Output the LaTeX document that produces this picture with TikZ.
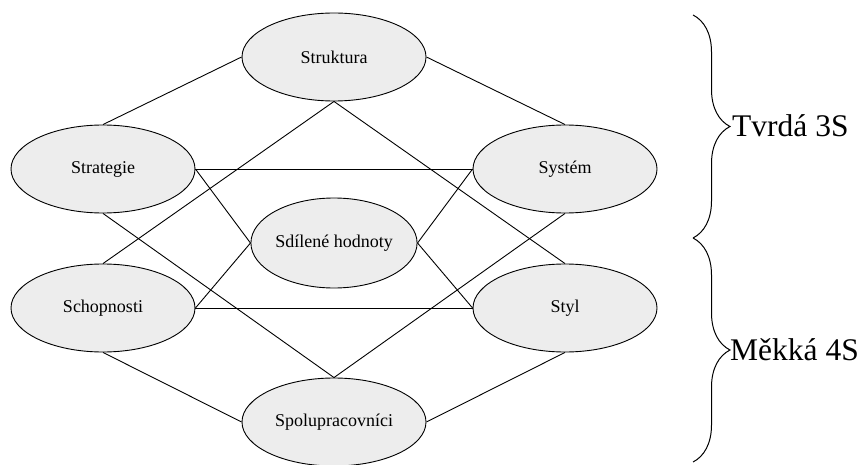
\documentclass[tikz,border=0pt]{standalone}
\usepackage{fontspec}
\setmainfont{Liberation Serif}
\usetikzlibrary{shapes.geometric,decorations.pathreplacing}
\begin{document}
\begin{tikzpicture}[x=1pt,y=-1pt,
  sbox/.style={ellipse, draw=black, line width=0.9pt, fill=gray!14,
    minimum width=184pt, minimum height=88pt, inner sep=0pt,
    font=\fontsize{18}{20}\selectfont},
  link/.style={draw=black, line width=0.9pt},
  grp/.style={decorate, decoration={brace, amplitude=37pt}, line width=1pt},
  grplabel/.style={anchor=west, inner sep=0pt, font=\fontsize{31.5}{34}\selectfont}]
\useasboundingbox (0,0) rectangle (861,465);

% the seven S elements
\node[sbox] (str) at (334,57)  {Struktura};
\node[sbox] (stg) at (103,169) {Strategie};
\node[sbox] (sys) at (565,169) {Systém};
\node[sbox, minimum width=148pt, minimum height=90pt] (sh) at (334,243) {Sdílené hodnoty};
\node[sbox] (sch) at (103,308) {Schopnosti};
\node[sbox] (sty) at (565,308) {Styl};
\node[sbox] (spo) at (334,422) {Spolupracovníci};

% links between the elements
\draw[link] (str.west) -- (stg.north);
\draw[link] (str.east) -- (sys.north);
\draw[link] (str.south) -- (sch.north);
\draw[link] (str.south) -- (sty.north);
\draw[link] (stg.east) -- (sys.west);
\draw[link] (stg.east) -- (sh.west);
\draw[link] (stg.south) -- (spo.north);
\draw[link] (sys.west) -- (sh.east);
\draw[link] (sys.south) -- (spo.north);
\draw[link] (sch.east) -- (sty.west);
\draw[link] (sch.east) -- (sh.west);
\draw[link] (sty.west) -- (sh.east);
\draw[link] (sch.south) -- (spo.west);
\draw[link] (sty.south) -- (spo.east);

% grouping braces
\coordinate (b0) at (693,15);
\coordinate (b1) at (693,238);
\coordinate (b2) at (693,462);
\draw[grp] (b0) -- (b1);
\draw[grp] (b1) -- (b2);
\node[grplabel] (hard) at (732,126) {Tvrdá 3S};
\node[grplabel] (soft) at (730,350) {Měkká 4S};
\end{tikzpicture}
\end{document}
